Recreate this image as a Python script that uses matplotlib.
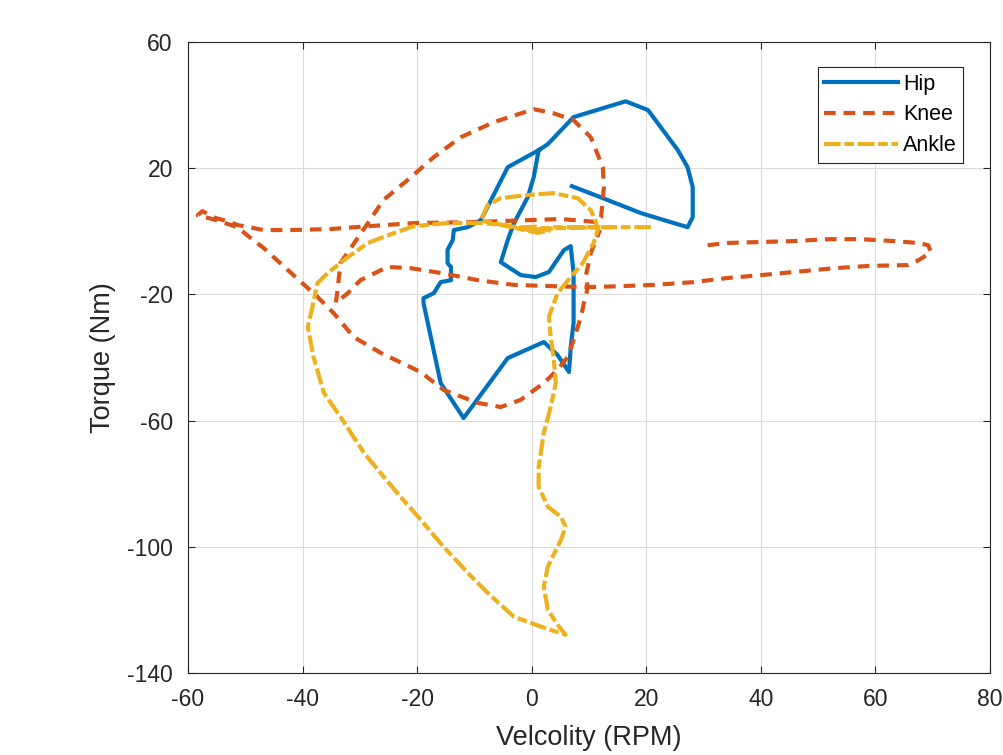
import numpy as np
import matplotlib.pyplot as plt

plt.rcParams['font.family'] = ['Liberation Sans', 'DejaVu Sans']
plt.rcParams['axes.unicode_minus'] = False

# Torque vs velocity
hip_vel = [7.0, 12.0, 19.0, 24.8, 27.2, 28.1, 28.1, 27.2, 25.5, 20.3, 16.4, 7.3, 2.8, 1.2,
           0.35, -0.7, -3.1, -4.2, -5.4, -1.9, 0.7, 3.0, 5.6, 6.8, 7.3, 7.3, 6.8, 6.5,
           4.5, 2.1, -4.2, -11.9, -15.9, -18.9, -18.9, -17.1, -15.9, -14.1, -14.1, -14.7,
           -14.7, -13.8, -13.6, -11.2, -8.9, -4.2, 1.2]
hip_tq = [14.3, 10.8, 5.8, 2.6, 1.3, 4.5, 14.0, 20.3, 25.7, 38.4, 41.2, 36.2, 27.6, 25.7,
          17.2, 10.8, 2.6, -2.8, -9.8, -13.9, -14.5, -12.9, -6.0, -4.7, -13.2, -29.1, -36.7, -44.6,
          -39.2, -35.1, -40.2, -59.2, -48.1, -22.7, -21.2, -19.6, -16.1, -15.5, -11.3, -10.1,
          -5.9, -2.8, 0.4, 1.3, 3.5, 20.3, 25.7]

knee_vel = [30.7, 34.2, 40.0, 45.8, 51.7, 57.5, 63.2, 67.4, 69.2, 69.7, 67.6, 65.7, 58.7,
            52.8, 45.8, 40.0, 34.2, 28.3, 21.3, 15.5, 9.8, 3.8, -3.1, -9.4, -15.9, -21.1,
            -25.2, -29.9, -32.1, -34.2, -33.9, -33.4, -28.6, -25.9, -21.7, -17.1, -12.4,
            -6.6, 0.35, 3.8, 7.3, 10.3, 12.4, 12.6, 12.1, 11.5, 5.1, -10.1, -20.6, -28.6,
            -35.1, -42.1, -46.8, -51.4, -53.1, -55.2, -57.5, -58.3, -55.2, -51.4, -49.1,
            -46.8, -41.6, -37.4, -34.6, -31.1, -26.4, -19.4, -15.4, -9.4, -5.4, -1.9, 2.1,
            4.5, 6.3, 7.3, 8.6, 9.1, 9.8, 9.4, 10.3, 11.9]
knee_tq = [-4.4, -3.7, -3.4, -3.1, -2.5, -2.5, -3.1, -3.7, -4.4, -6.6, -9.1, -10.7, -11.0,
           -11.7, -12.9, -13.9, -14.8, -16.1, -17.0, -17.4, -17.7, -17.4, -17.0, -15.5, -13.2,
           -11.7, -11.3, -15.5, -19.6, -22.7, -18.6, -10.1, 2.6, 9.9, 16.2, 23.5, 29.8, 34.6,
           38.7, 37.4, 35.2, 29.8, 20.3, 14.0, 4.5, 2.9, 3.9, 2.9, 2.6, 1.6, 0.7, 0.4, 0.4,
           2.0, 3.2, 4.2, 6.4, 5.1, 3.6, 1.3, -2.1, -5.3, -13.9, -20.8, -25.9, -33.5, -38.5,
           -44.6, -50.3, -54.4, -55.7, -53.4, -48.1, -43.9, -39.8, -34.4, -27.1, -22.7, -17.7,
           -14.5, -6.9, 0.4]

ankle_vel = [20.8, 15.5, 9.8, 3.8, 0.35, -1.9, -4.9, -8.9, -14.7, -20.6, -24.1, -28.6, -32.1,
             -35.6, -37.4, -38.3, -39.1, -38.1, -36.3, -33.4, -29.3, -26.4, -22.9, -19.4, -15.4,
             -11.2, -7.7, -3.1, 1.6, 5.9, 4.5, 2.8, 2.1, 2.8, 5.1, 5.9, 5.1, 2.8, 1.2, 1.2, 2.1,
             3.3, 4.2, 3.8, 3.3, 3.0, 4.5, 6.8, 8.9, 10.8, 11.5, 11.2, 10.3, 8.0, 3.8, -0.7,
             -5.4, -7.7, -8.9, -4.0, -1.0, 1.0, 3.0, 1.0, -2.0, 0.5, 2.5, 5.0, 10.0, 14.0]
ankle_tq = [1.3, 1.3, 1.3, 1.3, 0.4, 1.0, 2.0, 2.6, 2.6, 1.6, -0.6, -3.7, -8.2, -13.2, -16.4,
            -24.0, -30.3, -39.8, -51.2, -58.8, -70.2, -76.6, -84.2, -91.4, -100.0, -108.2,
            -114.6, -122.2, -125.3, -127.9, -124.7, -119.9, -112.7, -106.3, -97.8, -93.7, -90.5,
            -87.3, -81.0, -74.7, -63.9, -55.7, -48.1, -39.8, -33.5, -27.1, -19.6, -14.5, -10.1,
            -3.7, 0.4, 2.9, 6.7, 10.5, 12.1, 11.5, 10.5, 8.3, 3.5, 1.5, 0.3, -0.5, 0.2, 1.5,
            1.2, -0.3, 0.8, 1.0, 1.2, 1.3]

fig = plt.figure(figsize=(10.04, 7.55), dpi=100)
ax = fig.add_axes([0.1873, 0.1086, 0.7988, 0.8358])

lw = 3.0
ax.plot(hip_vel, hip_tq, color='#0072BD', lw=lw, label='Hip')
ax.plot(knee_vel, knee_tq, color='#D95319', lw=lw, ls=(0, (2.8, 1.9)), label='Knee')
ax.plot(ankle_vel, ankle_tq, color='#EDB120', lw=lw, ls=(0, (4.0, 0.9, 2.3, 0.9)), label='Ankle')

ax.set_xlim(-60, 80)
ax.set_ylim(-140, 60)
ax.set_xticks(np.arange(-60, 81, 20))
ax.set_yticks(np.arange(-140, 61, 40))
ax.grid(True, color='#dcdcdc', lw=0.8)
ax.set_axisbelow(True)
ax.tick_params(direction='in', top=True, right=True, labelsize=16.5, colors='#262626',
               length=5, pad=11)
for s in ax.spines.values():
    s.set_color('#262626')
ax.set_xlabel('Velcolity (RPM)', fontsize=19.5, color='#262626', labelpad=10)
ax.set_ylabel('Torque (Nm)', fontsize=19.5, color='#262626', labelpad=8)

leg = ax.legend(loc='upper right', bbox_to_anchor=(0.980, 0.977), fontsize=15.5,
                handlelength=3.4, handletextpad=0.25, fancybox=False, framealpha=1,
                edgecolor='#262626', borderpad=0.3, labelspacing=0.45)
leg.get_frame().set_linewidth(0.8)

fig.savefig('out.png', dpi=100)
